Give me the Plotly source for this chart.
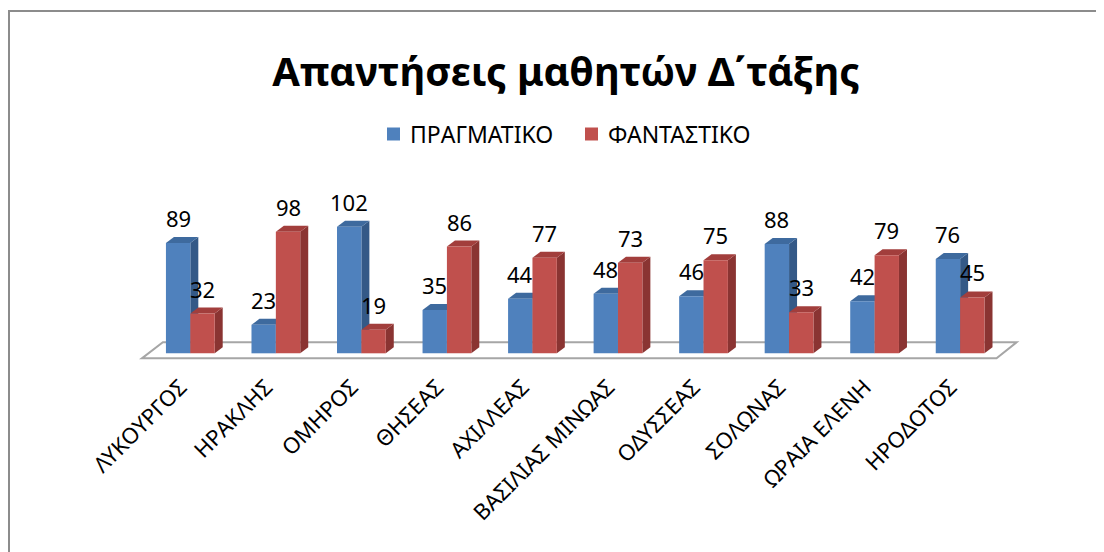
import plotly.graph_objects as go

categories = ["ΛΥΚΟΥΡΓΟΣ", "ΗΡΑΚΛΗΣ", "ΟΜΗΡΟΣ", "ΘΗΣΕΑΣ", "ΑΧΙΛΛΕΑΣ",
              "ΒΑΣΙΛΙΑΣ ΜΙΝΩΑΣ", "ΟΔΥΣΣΕΑΣ", "ΣΟΛΩΝΑΣ", "ΩΡΑΙΑ ΕΛΕΝΗ", "ΗΡΟΔΟΤΟΣ"]
real_vals = [89, 23, 102, 35, 44, 48, 46, 88, 42, 76]
fantasy_vals = [32, 98, 19, 86, 77, 73, 75, 33, 79, 45]
series_names = ["ΠΡΑΓΜΑΤΙΚΟ", "ΦΑΝΤΑΣΤΙΚΟ"]

FONT = "Noto Sans"
front_cols = ["#4F81BD", "#C0504D"]
side_cols = ["#345987", "#8A3432"]
top_cols = ["#3E6A9E", "#A23E3C"]

W, H = 1104, 552
OFF = 8  # page body margin offset
ML, MR, MT, MB = 131, 92, 184, 198
XR = [-0.6, 9.7]
YR = [-7, 130]
pw = W - ML - MR
ph = H - MT - MB
px_x = pw / (XR[1] - XR[0])
px_y = ph / (YR[1] - YR[0])
DX = 8 / px_x
DY = 6 / px_y
BW = 0.285
LABEL_SHIFT = -0.115  # rotated labels' anchor offset (category units)


def xp(px):
    return (px - OFF - ML) / pw


def yp(py):
    return (H - MB - (py - OFF)) / ph


xs = list(range(len(categories)))
fig = go.Figure()
shapes = []

# floor parallelogram (data coords)
fl_front_y, fl_back_y = -4.05, 8.9
shapes.append(dict(type="path", xref="x", yref="y", layer="below",
                   path=f"M-0.567,{fl_front_y} L9.426,{fl_front_y} L9.66,{fl_back_y} L-0.321,{fl_back_y} Z",
                   fillcolor="white", line=dict(color="#A6A6A6", width=2)))

annotations = []
for s, vals in enumerate([real_vals, fantasy_vals]):
    offs = -BW / 2 if s == 0 else BW / 2
    fig.add_trace(go.Bar(x=[x + offs for x in xs], y=vals, width=BW, name=series_names[s],
                         marker=dict(color=front_cols[s], line=dict(width=0)),
                         hoverinfo="y", showlegend=False))
    for i, v in enumerate(vals):
        x0 = i + offs - BW / 2
        x1 = i + offs + BW / 2
        shapes.append(dict(type="path", xref="x", yref="y", layer="below",
                           path=f"M{x1},0 L{x1+DX},{DY} L{x1+DX},{v+DY} L{x1},{v} Z",
                           fillcolor=side_cols[s], line=dict(width=0)))
        shapes.append(dict(type="path", xref="x", yref="y", layer="below",
                           path=f"M{x0},{v} L{x0+DX},{v+DY} L{x1+DX},{v+DY} L{x1},{v} Z",
                           fillcolor=top_cols[s], line=dict(width=0)))
        annotations.append(dict(x=i + offs, y=v, xref="x", yref="y", text=str(v),
                                showarrow=False, yshift=25, xanchor="center", yanchor="middle",
                                font=dict(family=FONT, size=22, color="black")))

# custom legend
leg_sq_x = [387, 585]
leg_txt_x = [408, 606]
leg_y = 134
for s in range(2):
    shapes.append(dict(type="rect", xref="paper", yref="paper", layer="above",
                       x0=xp(leg_sq_x[s]), x1=xp(leg_sq_x[s] + 13),
                       y0=yp(leg_y - 6.5), y1=yp(leg_y + 6.5),
                       fillcolor=front_cols[s], line=dict(width=0)))
    annotations.append(dict(x=xp(leg_txt_x[s]), y=yp(leg_y), xref="paper", yref="paper",
                            text=series_names[s], showarrow=False, xanchor="left", yanchor="middle",
                            font=dict(family=FONT, size=23, color="black")))

# outer chart frame (partly cropped)
shapes.append(dict(type="path", xref="paper", yref="paper", layer="above",
                   path=f"M{xp(9)},{yp(560)} L{xp(9)},{yp(11)} L{xp(1104)},{yp(11)}",
                   line=dict(color="#8C8C8C", width=2)))

fig.update_layout(
    width=W, height=H,
    margin=dict(l=ML, r=MR, t=MT, b=MB),
    paper_bgcolor="white", plot_bgcolor="white",
    barmode="overlay",
    showlegend=False,
    title=dict(text="<b>Απαντήσεις μαθητών Δ΄τάξης</b>", x=(566 - OFF) / W, xanchor="center",
               y=1 - (72 - OFF) / H, yanchor="middle", yref="container", xref="container",
               font=dict(family=FONT, size=40, color="black")),
    xaxis=dict(range=XR, tickvals=[x + LABEL_SHIFT for x in xs], ticktext=categories, tickangle=-45,
               showgrid=False, zeroline=False, showline=False, ticks="",
               ticklabelstandoff=7,
               tickfont=dict(family=FONT, size=22, color="black")),
    yaxis=dict(range=YR, showgrid=False, zeroline=False, showline=False,
               showticklabels=False, ticks=""),
    shapes=shapes, annotations=annotations,
)

fig.write_html("out.html")
